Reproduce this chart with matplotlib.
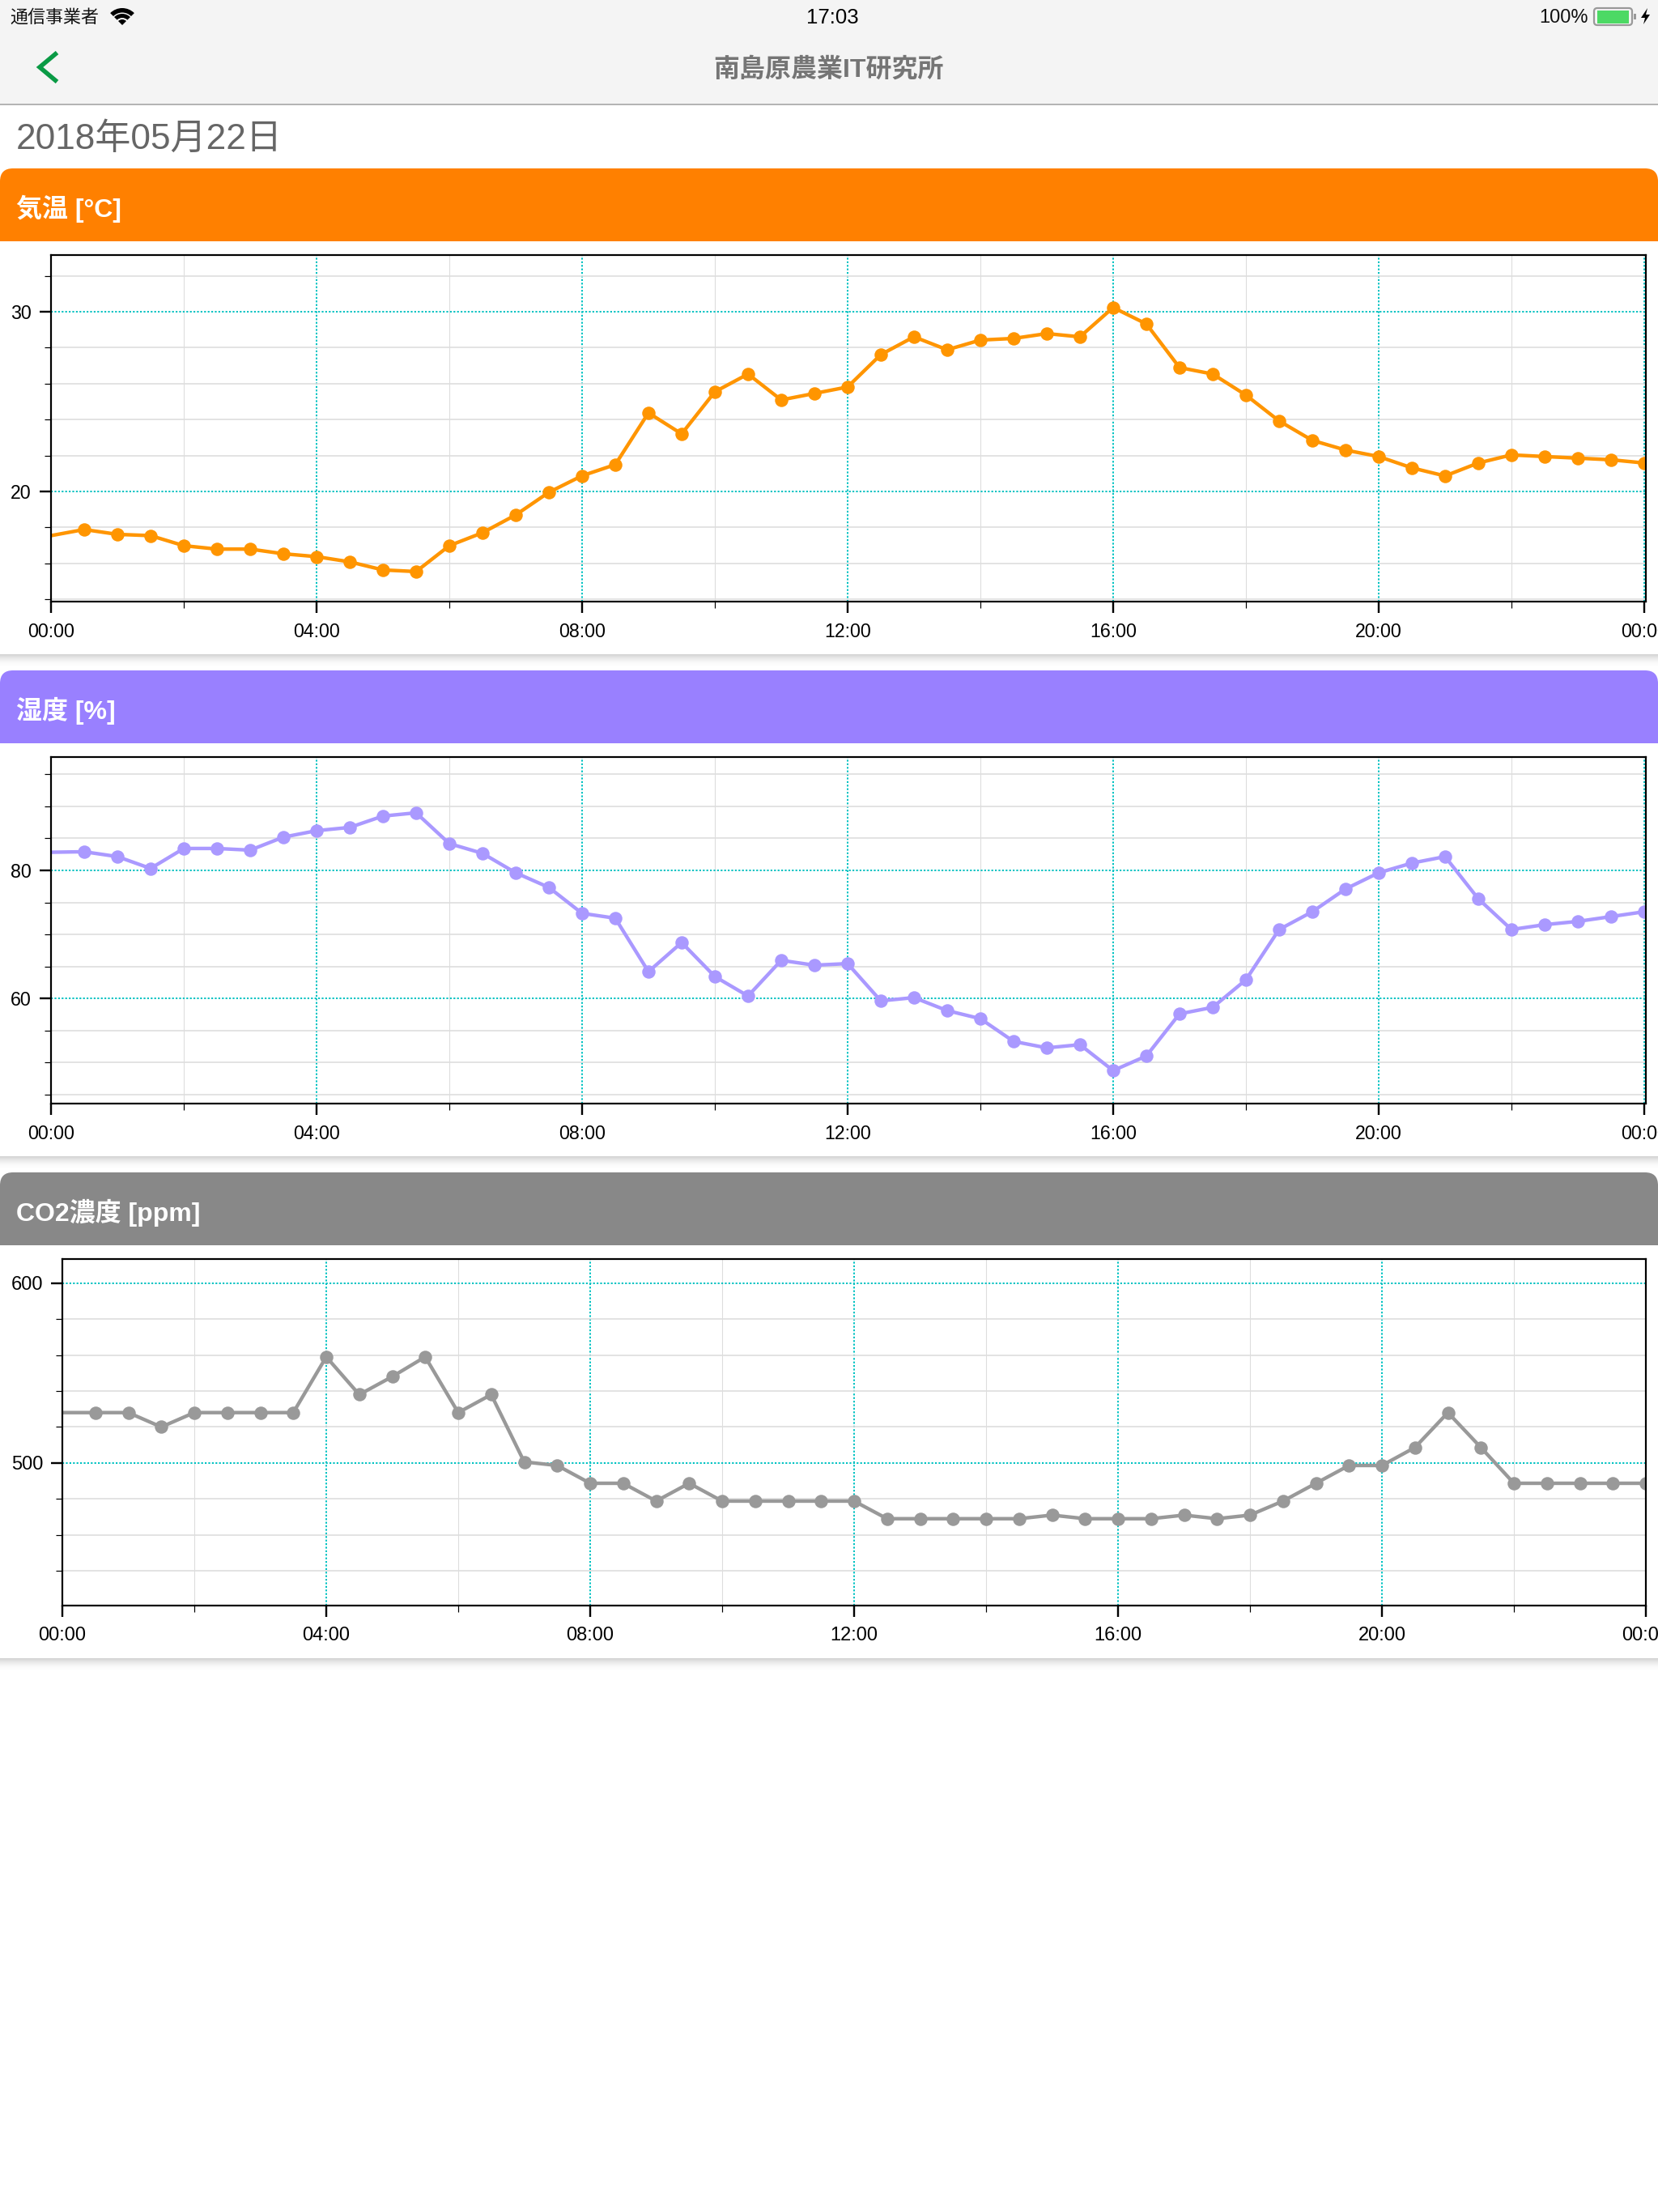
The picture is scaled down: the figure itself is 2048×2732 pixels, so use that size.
import matplotlib
matplotlib.use('Agg')
import matplotlib.pyplot as plt
from matplotlib.patches import Rectangle, FancyBboxPatch, Wedge, Polygon

W, H = 2048, 2732
PX = 72 / 100  # points per pixel at 100 dpi

hours = [0, 0.5, 1, 1.5, 2, 2.5, 3, 3.5, 4, 4.5, 5, 5.5, 6, 6.5, 7, 7.5, 8, 8.5, 9, 9.5,
         10, 10.5, 11, 11.5, 12, 12.5, 13, 13.5, 14, 14.5, 15, 15.5, 16, 16.5, 17, 17.5,
         18, 18.5, 19, 19.5, 20, 20.5, 21, 21.5, 22, 22.5, 23, 23.5, 24]
hour_ticks = [0, 4, 8, 12, 16, 20, 24]
hour_minor = [2, 6, 10, 14, 18, 22]
hour_labels = ['00:00', '04:00', '08:00', '12:00', '16:00', '20:00', '00:00']

temperature = [17.54, 17.88, 17.61, 17.54, 16.98, 16.79, 16.79, 16.53, 16.37, 16.08, 15.63, 15.54,
               16.98, 17.70, 18.69, 19.95, 20.87, 21.49, 24.37, 23.20, 25.54, 26.53, 25.09, 25.45,
               25.81, 27.61, 28.60, 27.88, 28.42, 28.51, 28.78, 28.60, 30.23, 29.32, 26.89, 26.53,
               25.36, 23.92, 22.84, 22.30, 21.94, 21.31, 20.86, 21.58, 22.03, 21.94, 21.85, 21.76,
               21.58]
humidity = [82.83, 82.91, 82.15, 80.30, 83.42, 83.42, 83.16, 85.19, 86.20, 86.71, 88.48, 88.99,
            84.18, 82.66, 79.62, 77.34, 73.29, 72.53, 64.18, 68.73, 63.42, 60.38, 65.95, 65.19,
            65.44, 59.62, 60.13, 58.10, 56.84, 53.29, 52.28, 52.78, 48.73, 51.01, 57.59, 58.61,
            62.91, 70.76, 73.54, 77.09, 79.62, 81.14, 82.15, 75.57, 70.76, 71.52, 72.03, 72.78,
            73.54]
co2 = [528, 528, 528, 520, 528, 528, 528, 528, 559, 538, 548, 559,
       528, 538, 500.6, 498.6, 488.7, 488.7, 478.8, 488.7, 478.8, 478.8, 478.8, 478.8,
       478.8, 469, 469, 469, 469, 469, 471, 469, 469, 469, 471, 469,
       471, 478.8, 488.7, 498.6, 498.6, 508.6, 528, 508.6, 488.7, 488.7, 488.7, 488.7,
       488.7]

temp_major = [20, 30]
temp_minor = [14, 16, 18, 22, 24, 26, 28, 32]
hum_major = [60, 80]
hum_minor = [45, 50, 55, 65, 70, 75, 85, 90, 95]
co2_major = [500, 600]
co2_minor = [440, 460, 480, 520, 540, 560, 580]

TEAL = '#00c2c2'
GRID = '#dddddd'
LABEL_FONT = ['Liberation Sans', 'DejaVu Sans']
JP_FONT = ['Noto Sans CJK JP', 'DejaVu Sans']
MIXED_FONT = ['Liberation Sans', 'Noto Sans CJK JP']

fig = plt.figure(figsize=(W / 100, H / 100), dpi=100, facecolor='white')

# page furniture is drawn in pixel coordinates on a full-size axes
page = fig.add_axes([0, 0, 1, 1], zorder=0)
page.set_xlim(0, W)
page.set_ylim(H, 0)
page.axis('off')


def card(bar_top, bar_bottom, card_bottom, color, title):
    # soft shadow under the card
    for i in range(16):
        page.add_patch(Rectangle((0, card_bottom + i), W, 1, fc='black',
                                 alpha=0.17 * (1 - i / 16) ** 2, lw=0))
    page.add_patch(FancyBboxPatch((0, bar_top), W, 40, boxstyle='round,pad=0,rounding_size=16',
                                  fc=color, ec='none'))
    page.add_patch(Rectangle((0, bar_top + 20), W, bar_bottom - bar_top - 20, fc=color, lw=0))
    page.text(20, (bar_top + bar_bottom) / 2 + 5, title, color='white', fontsize=23,
              fontweight='bold', family=MIXED_FONT, va='center', ha='left')


def chart(left, right, top, bottom, xlim, ylim, values, color, major, minor, label_size):
    ax = fig.add_axes([left / W, 1 - bottom / H, (right - left) / W, (bottom - top) / H], zorder=2)
    ax.set_xlim(*xlim)
    ax.set_ylim(*ylim)
    ax.set_xticks(hour_ticks)
    ax.set_xticks(hour_minor, minor=True)
    ax.set_xticklabels(hour_labels, family=LABEL_FONT, fontsize=label_size)
    ax.set_yticks(major)
    ax.set_yticks(minor, minor=True)
    ax.set_yticklabels([str(v) for v in major], family=LABEL_FONT, fontsize=label_size)
    ax.tick_params(which='major', length=14 * PX, width=2.4 * PX, pad=10 * PX)
    ax.tick_params(axis='x', which='major', pad=12 * PX)
    ax.tick_params(which='minor', length=8 * PX, width=1.2 * PX)
    for spine in ax.spines.values():
        spine.set_linewidth(2.2 * PX)
        spine.set_zorder(6)
    ax.set_axisbelow(True)
    ax.grid(which='minor', axis='y', color=GRID, lw=1.6 * PX)
    ax.grid(which='minor', axis='x', color=GRID, lw=1.1 * PX)
    ax.grid(which='major', color=TEAL, lw=2 * PX, linestyle=(0, (1.1, 1.1)))
    # the first sample sits on the axis and has no dot
    ax.plot(hours, values, color=color, lw=4.4 * PX, marker='o', ms=16.5 * PX, mew=0,
            markevery=(1, 1), solid_joinstyle='round', zorder=3)
    return ax


# status and navigation bars
page.add_patch(Rectangle((0, 0), W, 128, fc='#f4f4f4', lw=0))
page.plot([0, W], [128.5, 128.5], color='#b4b4b4', lw=2 * PX)
page.text(12, 22, '通信事業者', fontsize=15.8, family=JP_FONT, va='center', ha='left', color='#111111')
page.add_patch(Wedge((151, 31), 21, 225, 315, width=5.5, fc='black', lw=0))
page.add_patch(Wedge((151, 31), 14, 225, 315, width=5, fc='black', lw=0))
page.add_patch(Wedge((151, 31), 7, 225, 315, fc='black', lw=0))
page.text(1028, 22, '17:03', fontsize=18.5, family=LABEL_FONT, va='center', ha='center', color='black')
page.text(1962, 22, '100%', fontsize=17, family=LABEL_FONT, va='center', ha='right', color='#111111')
page.add_patch(FancyBboxPatch((1969, 10), 47, 21, boxstyle='round,pad=0,rounding_size=4',
                              fc='none', ec='#999999', lw=2.2 * PX))
page.add_patch(Rectangle((1973, 13), 39, 15.5, fc='#4cd964', lw=0))
page.add_patch(Rectangle((2018, 17), 3, 7, fc='#999999', lw=0))
page.add_patch(Polygon([(2035, 10), (2027, 22), (2032, 22), (2030, 30), (2038, 18), (2033, 18)],
                       fc='black', lw=0))
page.plot([70.5, 49, 70.5], [65, 83, 101], color='#0a9a45', lw=5.5 * PX, solid_capstyle='butt',
          solid_joinstyle='miter')
page.text(1023, 86, '南島原農業IT研究所', fontsize=23, fontweight='bold', family=MIXED_FONT,
          va='center', ha='center', color='#757575')
page.text(20, 172, '2018年05月22日', fontsize=31.8, family=MIXED_FONT, va='center', ha='left',
          color='#666666')

card(208, 298, 808, '#ff8000', '気温 [°C]')
card(828, 918, 1428, '#9980ff', '湿度 [%]')
card(1448, 1538, 2048, '#888888', 'CO2濃度 [ppm]')

chart(63, 2033, 315, 743, (0, 24.025), (13.87, 33.15), temperature, '#ff9500',
      temp_major, temp_minor, 16.7)
chart(63, 2033, 935, 1363, (0, 24.025), (43.58, 97.7), humidity, '#aa99ff',
      hum_major, hum_minor, 16.7)
chart(77, 2033, 1555, 1983, (0, 24), (420.7, 613.4), co2, '#999999',
      co2_major, co2_minor, 17)

fig.savefig('out.png', dpi=100)
